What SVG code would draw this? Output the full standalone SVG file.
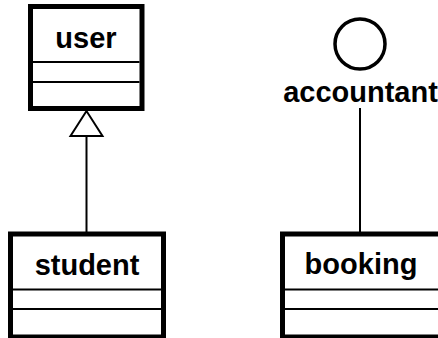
<svg xmlns="http://www.w3.org/2000/svg" width="438" height="338" viewBox="0 0 438 338">
  <style>
    .box { fill: #ffffff; stroke: #000000; stroke-width: 5; }
    .div { stroke: #000000; stroke-width: 2; }
    .lbl { font-family: "Liberation Sans", Arial, sans-serif; font-weight: bold; font-size: 29px; text-anchor: middle; fill: #000000; }
    .edge { stroke: #000000; stroke-width: 2; fill: none; }
  </style>
  <rect width="438" height="338" fill="#ffffff"/>
  <g id="connectors">
    <!-- generalisation: student to user -->
    <line class="edge" x1="86.5" y1="136" x2="86.5" y2="234"/>
    <polygon class="edge" fill="#ffffff" points="86.5,111 70.5,136 102.5,136"/>
    <!-- association: accountant to booking -->
    <line class="edge" x1="360" y1="108" x2="360" y2="234"/>
  </g>
  <g id="user">
    <rect class="box" x="30.5" y="6.5" width="111.5" height="102"/>
    <line class="div" x1="33" y1="62" x2="139.5" y2="62"/>
    <line class="div" x1="33" y1="82" x2="139.5" y2="82"/>
    <text class="lbl" x="86" y="48">user</text>
  </g>
  <g id="student">
    <rect class="box" x="10.5" y="234" width="153" height="103"/>
    <line class="div" x1="13" y1="289.5" x2="161" y2="289.5"/>
    <line class="div" x1="13" y1="309" x2="161" y2="309"/>
    <text class="lbl" x="87" y="275">student</text>
  </g>
  <g id="accountant">
    <circle cx="360" cy="44" r="25" fill="none" stroke="#000000" stroke-width="3.5"/>
    <text class="lbl" x="360.5" y="102">accountant</text>
  </g>
  <g id="booking">
    <rect class="box" x="282.5" y="234" width="165" height="103"/>
    <line class="div" x1="285" y1="289.5" x2="438" y2="289.5"/>
    <line class="div" x1="285" y1="309" x2="438" y2="309"/>
    <text class="lbl" x="361" y="274">booking</text>
  </g>
</svg>
